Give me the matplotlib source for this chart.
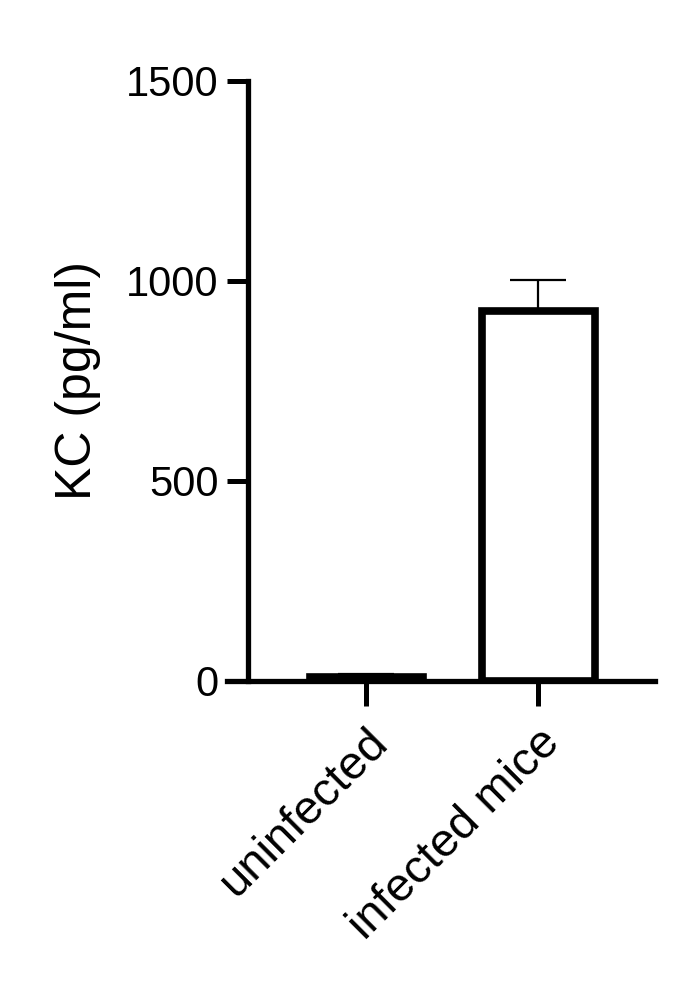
import numpy as np
import matplotlib
matplotlib.use('Agg')
import matplotlib.pyplot as plt

# data
groups = ['uninfected', 'infected mice']
kc_mean = [10, 925]
kc_err = [8, 78]
yticks = [0, 500, 1000, 1500]

plt.rcParams['font.family'] = ['Liberation Sans', 'DejaVu Sans']

W, H = 685, 985
fig = plt.figure(figsize=(W / 100, H / 100), dpi=100)

# axes box in pixels: left edge where x-axis line starts, y spine at 248
px_left, px_right, px_bottom, px_top = 227, 655, 681, 81
ax = fig.add_axes([px_left / W, (H - px_bottom) / H,
                   (px_right - px_left) / W, (px_bottom - px_top) / H])

x = np.arange(len(groups))
unit = 172.0  # pixels between bar centres
ax.set_xlim((px_left - 366) / unit, (px_right - 366) / unit)
ax.set_ylim(0, 1500)

ax.bar(x, kc_mean, width=113 / unit, color='white', edgecolor='black',
       linewidth=5.5, zorder=2)
ax.errorbar(x, kc_mean, yerr=[np.zeros(len(kc_err)), kc_err], fmt='none',
            ecolor='black', elinewidth=1.6, capsize=20, capthick=1.6, zorder=1)

ax.spines['top'].set_visible(False)
ax.spines['right'].set_visible(False)
ax.spines['left'].set_position(('data', (248 - 366) / unit))
for s in ['left', 'bottom']:
    ax.spines[s].set_linewidth(3.8)
    ax.spines[s].set_capstyle('projecting')

ax.set_yticks(yticks)
ax.set_yticklabels([str(v) for v in yticks], fontsize=30)
ax.tick_params(axis='y', length=15, width=3.6, pad=6)
ax.set_xticks(x)
ax.set_xticklabels(groups, fontsize=34, rotation=45, ha='right',
                   rotation_mode='anchor')
ax.tick_params(axis='x', length=18, width=3.6, pad=10)

ax.set_ylabel('KC (pg/ml)', fontsize=36, labelpad=18)

plt.savefig('out.png', dpi=100)
